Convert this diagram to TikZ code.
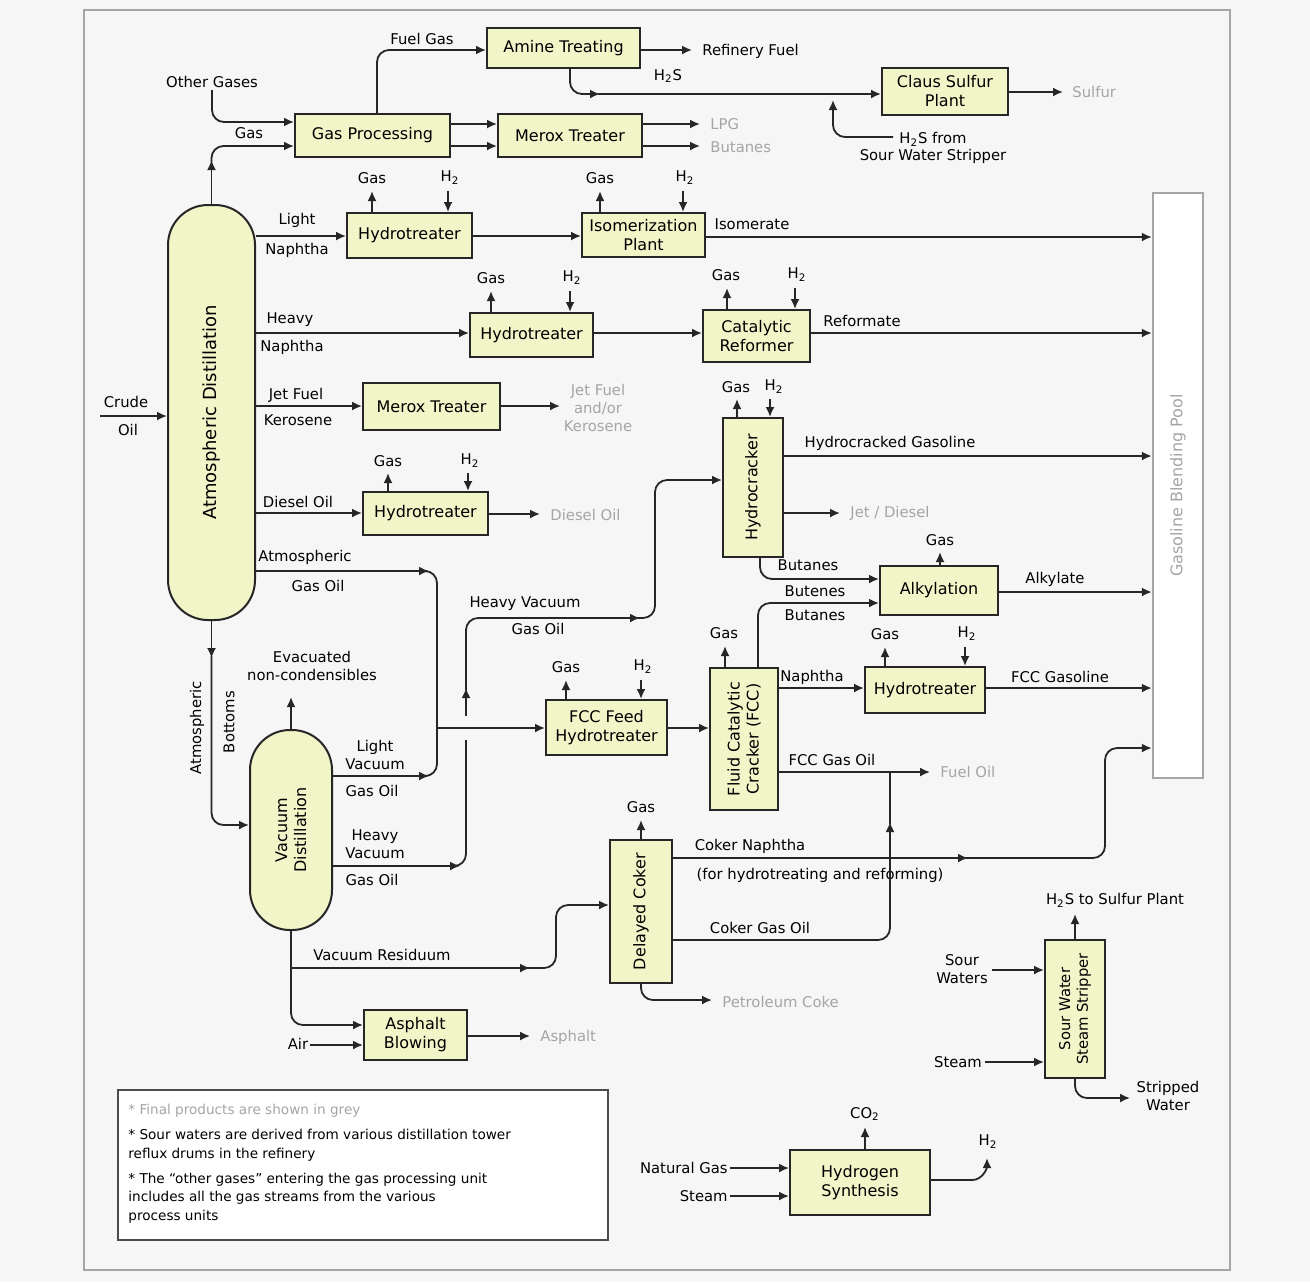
\documentclass[tikz,border=0pt]{standalone}
\usepackage{fontspec}
\setmainfont{DejaVu Sans}
\usetikzlibrary{arrows.meta}
\definecolor{boxfill}{RGB}{242,245,200}
\definecolor{prodgray}{RGB}{165,165,165}
\definecolor{bgcol}{RGB}{246,246,246}
\newcommand\fsa{\fontsize{7.4}{8.8}\selectfont}
\newcommand\fsb{\fontsize{8}{9.5}\selectfont}
\newcommand\fsc{\fontsize{9}{11}\selectfont}
\newcommand\fsn{\fontsize{6.8}{9.4}\selectfont}
\begin{document}
\begin{tikzpicture}[x=0.5pt,y=-0.5pt,
 box/.style={draw=black!85, line width=1pt, fill=boxfill, inner sep=0pt, align=center, font=\fsb},
 pxsize/.style 2 args={minimum width=#1*0.5pt, minimum height=#2*0.5pt},
 flow/.style={line width=0.9pt, draw=black!85, -{Latex[length=5pt,width=4.5pt]}},
 plain/.style={line width=0.9pt, draw=black!85},
 lbl/.style={font=\fsa, align=center, inner sep=1pt},
 prod/.style={lbl, text=prodgray},
 rc/.style={rounded corners=6pt},
 vtext/.style={rotate=90, align=center, inner sep=0pt}]
\path[fill=bgcol] (0,0) rectangle (1310,1282);
\useasboundingbox (0,0) rectangle (1310,1282);
\draw[gray!70, line width=1.2pt] (84,10) rectangle (1230,1270);

% ---------- boxes ----------
\node[box, pxsize={153}{40}] (amine) at (563.5,48) {Amine Treating};
\node[box, pxsize={126}{47}] (claus) at (945,91.5) {Claus Sulfur\\Plant};
\node[box, pxsize={155}{43}] (gasp) at (372.5,135.5) {Gas Processing};
\node[box, pxsize={144}{43}] (merox1) at (570,135.5) {Merox Treater};
\node[box, pxsize={87}{415}, rounded corners=20pt] (atm) at (211.5,412.5) {};
\node[vtext, font=\fsc] (atmt) at (atm) {Atmospheric Distillation};
\node[box, pxsize={125}{45}] (ht1) at (409.5,235.5) {Hydrotreater};
\node[box, pxsize={123}{44}] (isom) at (643.5,235) {Isomerization\\Plant};
\node[box, pxsize={123}{44}] (ht2) at (531.5,335) {Hydrotreater};
\node[box, pxsize={107}{52}] (ref) at (756.5,336) {Catalytic\\Reformer};
\node[box, pxsize={137}{47}] (merox2) at (431.5,406.5) {Merox Treater};
\node[box, pxsize={125}{43}] (ht3) at (425.5,513.5) {Hydrotreater};
\node[box, pxsize={60}{139}] (hc) at (753,487.5) {};
\node[vtext, font=\fsb] (hct) at (hc) {Hydrocracker};
\node[box, pxsize={118}{49}] (alky) at (939,590.5) {Alkylation};
\node[box, pxsize={121}{55}] (fccht) at (606.5,727.5) {FCC Feed\\Hydrotreater};
\node[box, pxsize={68}{142}] (fcc) at (744,739) {};
\node[vtext, font=\fsb] (fcct) at (fcc) {Fluid Catalytic\\Cracker (FCC)};
\node[box, pxsize={120}{46}] (ht4) at (925,690) {Hydrotreater};
\node[box, pxsize={82}{200}, rounded corners=20pt] (vac) at (291,830) {};
\node[vtext, font=\fsb] (vact) at (vac) {Vacuum\\Distillation};
\node[box, pxsize={62}{143}] (coker) at (641,911.5) {};
\node[vtext, font=\fsb] (cokert) at (coker) {Delayed Coker};
\node[box, pxsize={103}{50}] (asph) at (415.5,1035) {Asphalt\\Blowing};
\node[box, pxsize={60}{138}] (sws) at (1075,1009) {};
\node[vtext, font=\fsa] (swst) at (sws) {Sour Water\\Steam Stripper};
\node[box, pxsize={140}{65}] (h2syn) at (860,1182.5) {Hydrogen\\Synthesis};
\node[draw=gray!70, line width=1.2pt, fill=white, pxsize={50}{585}] (pool) at (1178,485.5) {};
\node[vtext, font=\fsb, text=prodgray] (poolt) at (pool) {Gasoline Blending Pool};

% ---------- crude feed ----------
\node[lbl] (tcr1) at (126,402) {Crude};
\node[lbl] (tcr2) at (128,430) {Oil};
\coordinate (crin) at (100,416);
\draw[flow] (crin) -- (atm.west |- 0,416);

% ---------- top: gases ----------
\node[lbl] (og) at (212,82) {Other Gases};
\draw[flow, rc] (og.south) |- (gasp.west |- 0,122);
\draw[flow] (atm.north) -- (atm.north |- 0,160);
\draw[flow, rc] (atm.north |- 0,162) |- (gasp.west |- 0,146);
\node[lbl] (tgas0) at (249,133) {Gas};
\draw[flow, rc] (gasp.north -| 377,0) |- (amine.west |- 0,50);
\node[lbl] (tfg) at (422,39) {Fuel Gas};
\draw[flow] (amine.east |- 0,50) -- (692,50);
\node[lbl, anchor=west] (trf) at (700,51) {Refinery Fuel};
\draw[flow, rc] (amine.south -| 570,0) |- (600,94);
\draw[flow] (598,94) -- (claus.west |- 0,94);
\node[lbl] (th2s) at (668,76) {H\textsubscript{2}S};
\node[lbl] (th2sf) at (933,148) {H\textsubscript{2}S from\\Sour Water Stripper};
\coordinate (h2sin) at (893,137);
\draw[flow, rc] (h2sin) -| (833,100);
\draw[flow] (claus.east |- 0,92) -- (1063,92);
\node[prod, anchor=west] (tsul) at (1070,92) {Sulfur};
\draw[flow] (gasp.east |- 0,124) -- (merox1.west |- 0,124);
\draw[flow] (gasp.east |- 0,146) -- (merox1.west |- 0,146);
\draw[flow] (merox1.east |- 0,124) -- (700,124);
\draw[flow] (merox1.east |- 0,146) -- (700,146);
\node[prod, anchor=west] (tlpg) at (708,124) {LPG};
\node[prod, anchor=west] (tbut) at (708,147) {Butanes};

% ---------- light naphtha ----------
\draw[flow] (atm.east |- 0,236) -- (ht1.west |- 0,236);
\node[lbl] (tln1) at (297,220) {Light};
\node[lbl] (tln2) at (297,250) {Naphtha};
\draw[flow] (ht1.north -| 372,0) -- (372,191);
\node[lbl] (tg1) at (372,178) {Gas};
\draw[flow] (448,191) -- (ht1.north -| 448,0);
\node[lbl] (th1) at (450,178) {H\textsubscript{2}};
\draw[flow] (ht1.east |- 0,236) -- (isom.west |- 0,236);
\draw[flow] (isom.north -| 600,0) -- (600,191);
\node[lbl] (tg2) at (600,178) {Gas};
\draw[flow] (683,191) -- (isom.north -| 683,0);
\node[lbl] (th2) at (685,178) {H\textsubscript{2}};
\draw[flow] (isom.east |- 0,237) -- (pool.west |- 0,237);
\node[lbl] (tiso) at (752,224) {Isomerate};

% ---------- heavy naphtha ----------
\draw[flow] (atm.east |- 0,333) -- (ht2.west |- 0,333);
\node[lbl] (thn1) at (290,320) {Heavy};
\node[lbl] (thn2) at (292,347) {Naphtha};
\draw[flow] (ht2.north -| 491,0) -- (491,291);
\node[lbl] (tg3) at (491,278) {Gas};
\draw[flow] (570,291) -- (ht2.north -| 570,0);
\node[lbl] (th3) at (572,278) {H\textsubscript{2}};
\draw[flow] (ht2.east |- 0,333) -- (ref.west |- 0,333);
\draw[flow] (ref.north -| 727,0) -- (727,288);
\node[lbl] (tg4) at (726,275) {Gas};
\draw[flow] (795,288) -- (ref.north -| 795,0);
\node[lbl] (th4) at (797,275) {H\textsubscript{2}};
\draw[flow] (ref.east |- 0,333) -- (pool.west |- 0,333);
\node[lbl] (tref) at (862,321) {Reformate};

% ---------- jet fuel ----------
\draw[flow] (atm.east |- 0,406) -- (merox2.west |- 0,406);
\node[lbl] (tj1) at (296,395) {Jet Fuel};
\node[lbl] (tj2) at (298,420) {Kerosene};
\draw[flow] (merox2.east |- 0,406) -- (560,406);
\node[prod] (tjo) at (598,408) {Jet Fuel\\and/or\\Kerosene};

% ---------- diesel ----------
\draw[flow] (atm.east |- 0,513) -- (ht3.west |- 0,513);
\node[lbl] (td) at (298,502) {Diesel Oil};
\draw[flow] (ht3.north -| 388,0) -- (388,473);
\node[lbl] (tg5) at (388,461) {Gas};
\draw[flow] (468,473) -- (ht3.north -| 468,0);
\node[lbl] (th5) at (470,461) {H\textsubscript{2}};
\draw[flow] (ht3.east |- 0,514) -- (540,514);
\node[prod, anchor=west] (tdo) at (548,515) {Diesel Oil};

% ---------- gas oils ----------
\coordinate (j1) at (437,728);
\draw[flow] (atm.east |- 0,571) -- (429,571);
\draw[plain, rc] (427,571) -| (j1);
\node[lbl] (tago1) at (305,557) {Atmospheric};
\node[lbl] (tago2) at (318,586) {Gas Oil};
\draw[flow] (atm.south) -- (atm.south |- 0,658);
\draw[flow, rc] (atm.south |- 0,656) |- (vac.west |- 0,825);
\node[lbl, rotate=90] (tab1) at (197,728) {Atmospheric};
\node[lbl, rotate=90] (tab2) at (229,722) {Bottoms};
\draw[flow] (vac.north) -- (vac.north |- 0,697);
\node[lbl] (tev) at (312,666) {Evacuated\\non-condensibles};
\draw[flow] (vac.east |- 0,776) -- (429,776);
\draw[plain, rc] (427,776) -| (j1);
\node[lbl] (tlv1) at (375,755) {Light\\Vacuum};
\node[lbl] (tlv2) at (372,791) {Gas Oil};
\draw[flow] (j1) -- (fccht.west |- 0,728);
\draw[flow] (vac.east |- 0,866) -- (460,866);
\draw[plain, rc] (456,866) -| (466,740);
\draw[flow] (466,716) -- (466,688);
\draw[flow, rc] (466,690) |- (640,618);
\draw[flow, rc] (636,618) -| (655,480) -- (hc.west |- 0,480);
\node[lbl] (thv1) at (525,604) {Heavy Vacuum};
\node[lbl] (thv2) at (538,629) {Gas Oil};
\node[lbl] (thl1) at (375,844) {Heavy\\Vacuum};
\node[lbl] (thl2) at (372,880) {Gas Oil};

% ---------- residuum ----------
\draw[flow, rc] (vac.south) |- (asph.west |- 0,1025);
\draw[flow] (vac.south |- 0,968) -- (530,968);
\draw[flow, rc] (526,968) -| (556,905) -- (coker.west |- 0,905);
\node[lbl] (tvr) at (382,955) {Vacuum Residuum};
\node[lbl] (tair) at (298,1044) {Air};
\draw[flow] (310,1045) -- (asph.west |- 0,1045);
\draw[flow] (asph.east |- 0,1036) -- (530,1036);
\node[prod, anchor=west] (tasp) at (538,1037) {Asphalt};

% ---------- FCC ----------
\draw[flow] (fccht.north -| 566,0) -- (566,680);
\node[lbl] (tg6) at (566,667) {Gas};
\draw[flow] (641,680) -- (fccht.north -| 641,0);
\node[lbl] (th6) at (643,667) {H\textsubscript{2}};
\draw[flow] (fccht.east |- 0,728) -- (fcc.west |- 0,728);
\draw[flow] (fcc.north -| 725,0) -- (725,646);
\node[lbl] (tg7) at (724,633) {Gas};
\draw[flow, rc] (fcc.north -| 758,0) |- (alky.west |- 0,603);
\node[lbl] (tbb1) at (815,591) {Butenes};
\node[lbl] (tbb2) at (815,615) {Butanes};
\draw[flow] (fcc.east |- 0,688) -- (ht4.west |- 0,688);
\node[lbl] (tnap) at (812,677) {Naphtha};
\draw[flow] (ht4.north -| 885,0) -- (885,647);
\node[lbl] (tg10) at (885,634) {Gas};
\draw[flow] (965,647) -- (ht4.north -| 965,0);
\node[lbl] (th10) at (967,634) {H\textsubscript{2}};
\draw[flow] (ht4.east |- 0,688) -- (pool.west |- 0,688);
\node[lbl] (tfccg) at (1060,677) {FCC Gasoline};
\coordinate (j2) at (890,772);
\draw[flow] (fcc.east |- 0,772) -- (930,772);
\node[lbl] (tfgo) at (832,760) {FCC Gas Oil};
\node[prod, anchor=west] (tfo) at (938,772) {Fuel Oil};

% ---------- hydrocracker ----------
\draw[flow] (hc.north -| 737,0) -- (737,399);
\node[lbl] (tg8) at (736,387) {Gas};
\draw[flow] (770,399) -- (hc.north -| 770,0);
\node[lbl] (th8) at (774,387) {H\textsubscript{2}};
\draw[flow] (hc.east |- 0,456) -- (pool.west |- 0,456);
\node[lbl] (thg) at (890,443) {Hydrocracked Gasoline};
\draw[flow] (hc.east |- 0,513) -- (840,513);
\node[prod, anchor=west] (tjd) at (848,513) {Jet / Diesel};
\draw[flow, rc] (hc.south -| 760,0) |- (alky.west |- 0,579);
\node[lbl] (thb) at (808,565) {Butanes};

% ---------- alkylation ----------
\draw[flow] (alky.north -| 940,0) -- (940,552);
\node[lbl] (tg9) at (940,540) {Gas};
\draw[flow] (alky.east |- 0,592) -- (pool.west |- 0,592);
\node[lbl] (talk) at (1055,579) {Alkylate};

% ---------- coker ----------
\draw[flow] (coker.north) -- (coker.north |- 0,820);
\node[lbl] (tg11) at (641,807) {Gas};
\draw[flow] (coker.east |- 0,858) -- (968,858);
\draw[flow, rc] (964,858) -| (1105,748) -- (pool.west |- 0,748);
\node[lbl] (tcn1) at (750,846) {Coker Naphtha};
\node[lbl] (tcn2) at (820,875) {(for hydrotreating and reforming)};
\draw[flow, rc] (coker.east |- 0,940) -| (890,822);
\draw[plain] (890,824) -- (j2);
\node[lbl] (tcgo) at (760,928) {Coker Gas Oil};
\draw[flow, rc] (coker.south) |- (712,1000);
\node[prod, anchor=west] (tpc) at (720,1002) {Petroleum Coke};

% ---------- sour water stripper ----------
\node[lbl] (tsw) at (962,969) {Sour\\Waters};
\draw[flow] (992,970) -- (sws.west |- 0,970);
\node[lbl] (tst1) at (958,1062) {Steam};
\draw[flow] (985,1062) -- (sws.west |- 0,1062);
\draw[flow] (sws.north) -- (sws.north |- 0,914);
\node[lbl] (th2ss) at (1115,900) {H\textsubscript{2}S to Sulfur Plant};
\draw[flow, rc] (sws.south) |- (1130,1098);
\node[lbl] (tstw) at (1168,1096) {Stripped\\Water};

% ---------- hydrogen ----------
\node[lbl, anchor=east] (tng) at (730,1168) {Natural Gas};
\draw[flow] (tng.east) -- (h2syn.west |- 0,1168);
\node[lbl, anchor=east] (tst2) at (730,1196) {Steam};
\draw[flow] (tst2.east) -- (h2syn.west |- 0,1196);
\draw[flow] (h2syn.north -| 865,0) -- (865,1127);
\node[lbl] (tco2) at (865,1114) {CO\textsubscript{2}};
\draw[flow] (h2syn.east |- 0,1180) -- (972,1180) to[out=0,in=-90] (987,1158);
\node[lbl] (th2o) at (988,1142) {H\textsubscript{2}};

% ---------- notes ----------
\node[draw=black!70, line width=1.2pt, fill=white, pxsize={490}{150}] (notes) at (363,1165) {};
\node[font=\fsn, anchor=north west, align=left, inner sep=0pt] (notest) at (128,1104) {%
{\color{prodgray}* Final products are shown in grey}\\[3pt]
* Sour waters are derived from various distillation tower\\
reflux drums in the refinery\\[3pt]
* The “other gases” entering the gas processing unit\\
includes all the gas streams from the various\\
process units};
\end{tikzpicture}
\end{document}
